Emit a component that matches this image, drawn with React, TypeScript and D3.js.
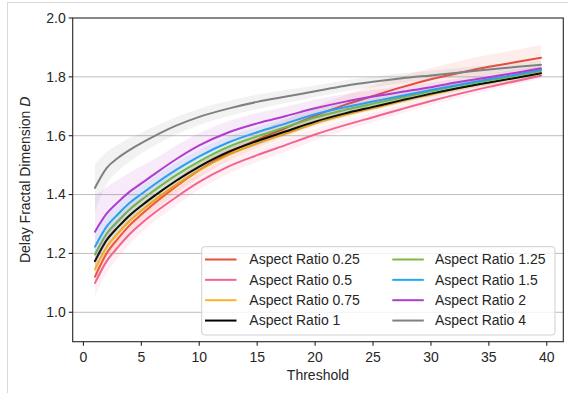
import React from "react";
import * as d3 from "d3";

const thresholds = [1, 2, 3, 4, 5, 6, 8, 10, 12.5, 15, 17.5, 20, 22.5, 25, 27.5, 30, 32.5, 35, 37.5, 39.5];

const seriesNames = ["Aspect Ratio 0.25", "Aspect Ratio 0.5", "Aspect Ratio 0.75", "Aspect Ratio 1", "Aspect Ratio 1.25", "Aspect Ratio 1.5", "Aspect Ratio 2", "Aspect Ratio 4"];
const seriesColors = ["#e84c3d", "#f2658f", "#fbb324", "#000000", "#7cba3c", "#1eaaf1", "#b03ccf", "#808080"];

const ar025 = [1.121, 1.200, 1.251, 1.296, 1.332, 1.366, 1.428, 1.483, 1.541, 1.586, 1.627, 1.668, 1.704, 1.735, 1.765, 1.792, 1.814, 1.834, 1.851, 1.865];
const ar05 = [1.100, 1.173, 1.222, 1.266, 1.302, 1.334, 1.391, 1.443, 1.495, 1.534, 1.569, 1.604, 1.635, 1.663, 1.691, 1.718, 1.743, 1.766, 1.787, 1.804];
const ar075 = [1.146, 1.220, 1.268, 1.310, 1.344, 1.376, 1.433, 1.483, 1.535, 1.574, 1.608, 1.642, 1.670, 1.694, 1.718, 1.740, 1.762, 1.781, 1.799, 1.8145];
const ar1 = [1.174, 1.245, 1.290, 1.330, 1.362, 1.392, 1.447, 1.495, 1.545, 1.582, 1.615, 1.648, 1.675, 1.698, 1.721, 1.743, 1.763, 1.781, 1.798, 1.8125];
const ar125 = [1.197, 1.267, 1.311, 1.350, 1.382, 1.411, 1.466, 1.513, 1.562, 1.598, 1.630, 1.662, 1.687, 1.709, 1.730, 1.751, 1.771, 1.788, 1.805, 1.8195];
const ar15 = [1.223, 1.291, 1.334, 1.372, 1.402, 1.431, 1.484, 1.530, 1.577, 1.612, 1.642, 1.673, 1.696, 1.716, 1.736, 1.755, 1.774, 1.792, 1.809, 1.824];
const ar2 = [1.274, 1.335, 1.375, 1.410, 1.438, 1.466, 1.520, 1.567, 1.611, 1.642, 1.667, 1.693, 1.715, 1.733, 1.749, 1.765, 1.783, 1.799, 1.815, 1.829];
const ar4 = [1.423, 1.490, 1.525, 1.552, 1.575, 1.596, 1.634, 1.664, 1.692, 1.715, 1.733, 1.751, 1.769, 1.783, 1.795, 1.805, 1.815, 1.825, 1.834, 1.841];

const err025 = [0.03, 0.028, 0.027, 0.026, 0.025, 0.025, 0.025, 0.025, 0.026, 0.027, 0.029, 0.031, 0.033, 0.035, 0.037, 0.038, 0.04, 0.041, 0.042, 0.043];
const err05 = [0.045, 0.04, 0.037, 0.034, 0.032, 0.03, 0.028, 0.026, 0.024, 0.023, 0.022, 0.02, 0.018, 0.016, 0.015, 0.014, 0.013, 0.012, 0.011, 0.01];
const err075 = [0.03, 0.027, 0.025, 0.023, 0.021, 0.02, 0.019, 0.018, 0.017, 0.016, 0.015, 0.014, 0.013, 0.012, 0.012, 0.011, 0.011, 0.01, 0.01, 0.01];
const err1 = [0.025, 0.023, 0.021, 0.02, 0.019, 0.018, 0.017, 0.016, 0.015, 0.014, 0.013, 0.012, 0.011, 0.011, 0.01, 0.01, 0.009, 0.009, 0.008, 0.008];
const err125 = [0.03, 0.027, 0.025, 0.023, 0.021, 0.02, 0.019, 0.018, 0.017, 0.016, 0.015, 0.014, 0.013, 0.012, 0.011, 0.01, 0.01, 0.009, 0.009, 0.009];
const err15 = [0.04, 0.035, 0.032, 0.03, 0.028, 0.026, 0.024, 0.022, 0.02, 0.018, 0.017, 0.016, 0.015, 0.014, 0.013, 0.012, 0.011, 0.01, 0.01, 0.01];
const err2 = [0.12, 0.09, 0.075, 0.065, 0.058, 0.052, 0.046, 0.042, 0.038, 0.035, 0.032, 0.03, 0.026, 0.022, 0.018, 0.015, 0.013, 0.012, 0.011, 0.01];
const err4 = [0.08, 0.055, 0.045, 0.04, 0.035, 0.033, 0.03, 0.028, 0.026, 0.024, 0.022, 0.02, 0.019, 0.018, 0.017, 0.016, 0.015, 0.015, 0.015, 0.015];

const seriesValues = [ar025, ar05, ar075, ar1, ar125, ar15, ar2, ar4];
const seriesErrors = [err025, err05, err075, err1, err125, err15, err2, err4];

const xTicks = [0, 5, 10, 15, 20, 25, 30, 35, 40];
const yTicks = [1.0, 1.2, 1.4, 1.6, 1.8, 2.0];

const W = 568;
const H = 393;
const L = 72.7, R = 563.3, T = 18, B = 341.7;
const FONT = "'Liberation Sans', Arial, sans-serif";

export default function App() {
  const x = d3.scaleLinear().domain([-0.925, 41.425]).range([L, R]);
  const y = d3.scaleLinear().domain([0.9, 2.0]).range([B, T]);

  const line = d3
    .line<number>()
    .x((_, i) => x(thresholds[i]))
    .y((d) => y(d))
    .curve(d3.curveMonotoneX);

  const areaFor = (vals: number[], errs: number[]) =>
    d3
      .area<number>()
      .x((_, i) => x(thresholds[i]))
      .y0((d, i) => y(d - errs[i]))
      .y1((d, i) => y(d + errs[i]))
      .curve(d3.curveMonotoneX)(vals) || "";

  const legX = 201.7, legY = 246.7, legW = 353.3, legH = 88.3;
  const rowY = (i: number) => 259.5 + i * 20.35;

  return (
    <svg width={W} height={H} style={{ position: "absolute", left: 0, top: 0, background: "#fff" }} fontFamily={FONT}>
      <rect x={7.5} y={2.5} width={580} height={420} fill="none" stroke="#d9d9d9" strokeWidth={1} />
      <defs>
        <clipPath id="plotclip">
          <rect x={L} y={T} width={R - L} height={B - T} />
        </clipPath>
      </defs>
      {yTicks.filter((t) => t < 2).map((t) => (
        <line key={"g" + t} x1={L} x2={R} y1={y(t)} y2={y(t)} stroke="#bdbdbd" strokeWidth={1} />
      ))}
      <g clipPath="url(#plotclip)">
        {seriesValues.map((vals, k) => (
          <g key={"s" + k}>
            <path d={areaFor(vals, seriesErrors[k])} fill={seriesColors[k]} fillOpacity={0.1} stroke="none" />
            <path d={line(vals) || ""} fill="none" stroke={seriesColors[k]} strokeWidth={2} strokeLinejoin="round" strokeLinecap="round" />
          </g>
        ))}
      </g>
      <rect x={L} y={T} width={R - L} height={B - T} fill="none" stroke="#262626" strokeWidth={1.1} />
      {yTicks.map((t) => (
        <g key={"yt" + t}>
          <line x1={L - 4} x2={L} y1={y(t)} y2={y(t)} stroke="#262626" strokeWidth={1.1} />
          <text x={L - 7} y={y(t)} dy="0.35em" textAnchor="end" fontSize={14} fill="#262626">
            {t.toFixed(1)}
          </text>
        </g>
      ))}
      {xTicks.map((t) => (
        <g key={"xt" + t}>
          <line x1={x(t)} x2={x(t)} y1={B} y2={B + 4} stroke="#262626" strokeWidth={1.1} />
          <text x={x(t)} y={B + 20} textAnchor="middle" fontSize={14} fill="#262626">
            {t}
          </text>
        </g>
      ))}
      <text x={(L + R) / 2} y={380} textAnchor="middle" fontSize={14} fill="#262626">
        Threshold
      </text>
      <text transform={`translate(30, ${(T + B) / 2}) rotate(-90)`} textAnchor="middle" fontSize={14} fill="#262626">
        Delay Fractal Dimension <tspan fontStyle="italic">D</tspan>
      </text>
      <rect x={legX} y={legY} width={legW} height={legH} rx={3} fill="#fff" fillOpacity={0.8} stroke="#d0d0d0" strokeWidth={1} />
      {seriesNames.map((name, k) => {
        const col = Math.floor(k / 4);
        const row = k % 4;
        const hx = col === 0 ? 205 : 392.3;
        const tx = col === 0 ? 249.3 : 435;
        const ry = rowY(row);
        return (
          <g key={"lg" + k}>
            <line x1={hx} x2={hx + 31.5} y1={ry} y2={ry} stroke={seriesColors[k]} strokeWidth={2} />
            <text x={tx} y={ry} dy="0.35em" fontSize={14} fill="#262626">
              {name}
            </text>
          </g>
        );
      })}
    </svg>
  );
}
